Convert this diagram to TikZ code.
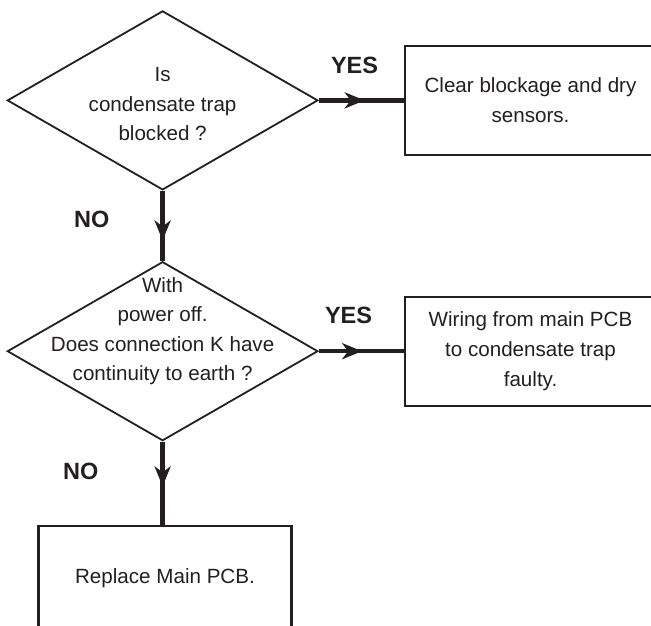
\documentclass[tikz,border=0pt]{standalone}
\usepackage{fontspec}
\setmainfont{Liberation Sans}
\usetikzlibrary{arrows.meta, positioning, shapes.geometric, decorations.markings}
\definecolor{inkdark}{RGB}{35, 31, 32}
\newcommand{\txtfont}{\fontsize{10.3}{14.8}\selectfont}
\newcommand{\lblfont}{\fontsize{11.75}{14}\selectfont\bfseries}
\tikzset{
  decision/.style={draw=inkdark, line width=0.9pt, shape=diamond, minimum width=155.3pt, minimum height=89.5pt, inner sep=0pt},
  qtext/.style={align=center, font=\txtfont, text=inkdark, inner sep=0pt},
  action/.style={draw=inkdark, line width=1.2pt, align=center, font=\txtfont, text=inkdark, minimum width=125.5pt, minimum height=54.5pt},
  answer/.style={font=\lblfont, text=inkdark, inner sep=0pt},
  flow/.style={draw=inkdark, line width=2.2pt, postaction={decorate},
    decoration={markings, mark=at position #1 with {\arrow{Stealth[length=10pt, width=8pt, inset=3pt]}}}}
}

\begin{document}
\begin{tikzpicture}
  \path[use as bounding box, fill=white] (0,0) rectangle (325.5pt,-312.5pt);
  \clip (0,0) rectangle (325.5pt,-312.5pt);
  % questions
  \node[decision] (q1) at (81.3pt,-50.2pt) {};
  \node[qtext, yshift=-2pt] (q1txt) at (q1.center) {Is\\condensate trap\\blocked ?};
  \node[decision, below=35pt of q1] (q2) {};
  \node[qtext, yshift=10pt] (q2txt) at (q2.center) {With\\power off.\\Does connection K have\\continuity to earth ?};
  % actions
  \node[action, right=42.5pt of q1] (b1) {Clear blockage and dry\\sensors.};
  \node[action, right=42.5pt of q2] (b2) {Wiring from main PCB\\to condensate trap\\faulty.};
  \node[action, minimum width=126.5pt, minimum height=52pt, below=41.5pt of q2, xshift=1.2pt] (b3) {Replace Main PCB.};
  % links
  \draw[flow=0.54] (q1) -- node[answer, pos=0.42, above=12pt] (yes1) {YES} (b1);
  \draw[flow=0.71] (q1) -- node[answer, pos=0.41, left=25.5pt] (no1) {NO} (q2);
  \draw[flow=0.51] (q2) -- node[answer, pos=0.35, above=12.5pt] (yes2) {YES} (b2);
  \draw[flow=0.54] (q2.south) -- node[answer, pos=0.36, left=31pt] (no2) {NO} (q2.south |- b3.north);
\end{tikzpicture}
\end{document}
